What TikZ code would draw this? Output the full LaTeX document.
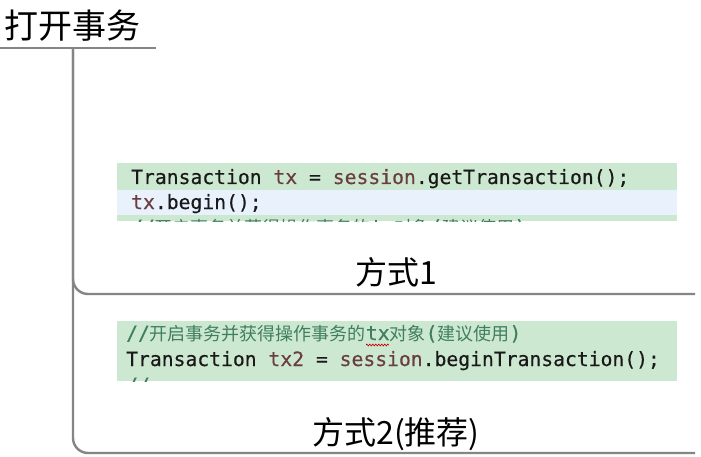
\documentclass[tikz,border=0pt]{standalone}
\usepackage{fontspec}
\setmainfont{Noto Sans CJK SC}
\newfontfamily\cjk{Noto Sans CJK SC}
\newfontfamily\codefont[FakeBold=0.4]{DejaVu Sans Mono}
\newfontfamily\cmtcjk{Noto Sans CJK SC}
\usetikzlibrary{decorations.pathmorphing}
\definecolor{linegray}{HTML}{858585}
\definecolor{codegreen}{HTML}{CDE8D0}
\definecolor{codeblue}{HTML}{E8F1FC}
\definecolor{varbrown}{HTML}{6A3E3E}
\definecolor{cmtgreen}{HTML}{3F7F5F}
\begin{document}
\begin{tikzpicture}[x=1pt,y=-1pt,
  branch/.style={draw=linegray,line width=2.4pt,rounded corners=15pt},
  label/.style={font=\cjk\fontsize{32}{32}\selectfont,inner sep=0pt,anchor=base},
  codeline/.style={font=\codefont\fontsize{19.7}{19.7}\selectfont,inner sep=0pt,anchor=base west,text=black!90},
  cmt/.style={font=\codefont\fontsize{19.7}{19.7}\selectfont,inner sep=0pt,anchor=base west,text=cmtgreen}]
\useasboundingbox (0,0) rectangle (701,457);
\fill[white] (0,0) rectangle (701,457);
% root
\node[font=\cjk\fontsize{34}{34}\selectfont,inner sep=0pt,anchor=base west] (root) at (4,39) {打开事务};
\coordinate (ul0) at (0,48);
\coordinate (ul1) at (156,48);
\coordinate (trunk) at (73,48);
\coordinate (b1end) at (695,294);
\coordinate (b2end) at (695,453);
\draw[draw=linegray,line width=2.4pt] (ul0) -- (ul1);
\draw[branch] (trunk) |- (b1end);
\draw[branch] (trunk) |- (b2end);
% code block 1
\fill[codegreen] (117,163) rectangle (677,190);
\fill[codeblue] (117,190) rectangle (677,215);
\fill[codegreen] (117,215) rectangle (677,221);
\node[codeline] (c1a) at (131,184) {Transaction \textcolor{varbrown}{tx} = \textcolor{varbrown}{session}.getTransaction();};
\node[codeline] (c1b) at (131,209) {\textcolor{varbrown}{tx}.begin();};
\begin{scope}
\clip (117,215) rectangle (677,221);
\node[cmt] (c1c) at (131,234) {//{\cmtcjk\fontsize{18}{18}\selectfont 开启事务并获得操作事务的}tx{\cmtcjk\fontsize{18}{18}\selectfont 对象}({\cmtcjk\fontsize{18}{18}\selectfont 建议使用})};
\end{scope}
\node[label] (m1) at (396,284) {方式1};
% code block 2
\fill[codegreen] (117,321) rectangle (677,381);
\node[cmt] (c2a) at (126,340) {//{\cmtcjk\fontsize{18}{18}\selectfont 开启事务并获得操作事务的}tx{\cmtcjk\fontsize{18}{18}\selectfont 对象}({\cmtcjk\fontsize{18}{18}\selectfont 建议使用})};
\draw[red!75!black,line width=0.6pt,decorate,decoration={zigzag,amplitude=1pt,segment length=3pt}] (366,345) -- (389,345);
\node[codeline] (c2b) at (126,366) {Transaction \textcolor{varbrown}{tx2} = \textcolor{varbrown}{session}.beginTransaction();};
\begin{scope}
\clip (117,374) rectangle (677,381);
\node[cmt] (c2c) at (126,392) {//};
\end{scope}
\node[label] (m2) at (396,444) {方式2(推荐)};
\end{tikzpicture}
\end{document}
